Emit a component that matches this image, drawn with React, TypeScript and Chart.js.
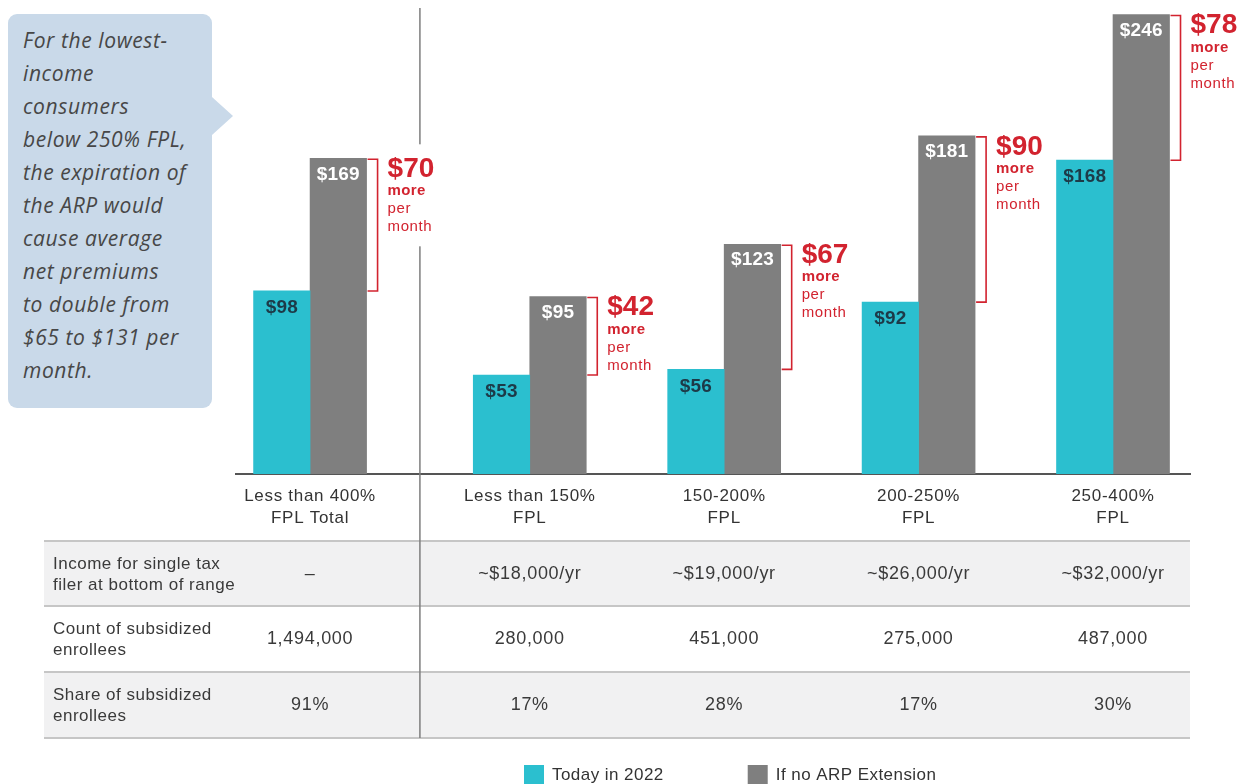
import React, { useEffect, useRef } from 'react';
import { Chart, registerables } from 'chart.js';

Chart.register(...registerables);

// ---------- data ----------
const CATEGORIES: string[][] = [
  ['Less than 400%', 'FPL Total'],
  ['Less than 150%', 'FPL'],
  ['150-200%', 'FPL'],
  ['200-250%', 'FPL'],
  ['250-400%', 'FPL'],
];
const SERIES_NAMES = ['Today in 2022', 'If no ARP Extension'];
const TODAY_2022 = [98, 53, 56, 92, 168];
const NO_ARP_EXTENSION = [169, 95, 123, 181, 246];
const INCREASE = [70, 42, 67, 90, 78];

const ROW_LABELS: string[][] = [
  ['Income for single tax', 'filer at bottom of range'],
  ['Count of subsidized', 'enrollees'],
  ['Share of subsidized', 'enrollees'],
];
const INCOME_ROW = ['–', '~$18,000/yr', '~$19,000/yr', '~$26,000/yr', '~$32,000/yr'];
const COUNT_ROW = ['1,494,000', '280,000', '451,000', '275,000', '487,000'];
const SHARE_ROW = ['91%', '17%', '28%', '17%', '30%'];

const CALLOUT_LINES = [
  'For the lowest-',
  'income',
  'consumers',
  'below 250% FPL,',
  'the expiration of',
  'the ARP would',
  'cause average',
  'net premiums',
  'to double from',
  '$65 to $131 per',
  'month.',
];

// ---------- layout / style ----------
const TEAL = '#2bbfcf';
const GREY = '#7f7f7f';
const RED = '#d2232f';
const FAMILY = '"Liberation Sans", Arial, Helvetica, sans-serif';
const GROUP_GAP = 0.13; // extra space after the total group
const xPos = (i: number) => i + (i > 0 ? GROUP_GAP : 0);
const font = (size: number, weight = 'normal') => `${weight} ${size}px ${FAMILY}`;

const TABLE_LEFT = 44;
const TABLE_RIGHT = 1190;
const ROW_EDGES = [541, 606, 672, 738];

const annotations = {
  id: 'annotations',
  beforeDraw(chart: any) {
    chart.ctx.letterSpacing = '0.7px';
  },
  beforeDatasetsDraw(chart: any) {
    const { ctx } = chart;
    const xs = chart.scales.x;
    const cols = TODAY_2022.map((_, i) => xs.getPixelForValue(xPos(i)));
    ctx.save();
    // table backgrounds
    ctx.fillStyle = '#f1f1f2';
    ctx.fillRect(TABLE_LEFT, ROW_EDGES[0], TABLE_RIGHT - TABLE_LEFT, ROW_EDGES[1] - ROW_EDGES[0]);
    ctx.fillRect(TABLE_LEFT, ROW_EDGES[2], TABLE_RIGHT - TABLE_LEFT, ROW_EDGES[3] - ROW_EDGES[2]);
    // row lines
    ctx.strokeStyle = '#c6c6c6';
    ctx.lineWidth = 2;
    ROW_EDGES.forEach((y) => {
      ctx.beginPath();
      ctx.moveTo(TABLE_LEFT, y);
      ctx.lineTo(TABLE_RIGHT, y);
      ctx.stroke();
    });
    // divider
    const dx = (cols[0] + cols[1]) / 2;
    ctx.strokeStyle = '#7d7d7d';
    ctx.lineWidth = 1.5;
    ctx.beginPath();
    ctx.moveTo(dx, 8);
    ctx.lineTo(dx, ROW_EDGES[3]);
    ctx.stroke();
    // table text
    ctx.fillStyle = '#3a3a3a';
    ctx.textBaseline = 'middle';
    ctx.textAlign = 'left';
    ctx.font = font(17);
    ctx.letterSpacing = '0.5px';
    ROW_LABELS.forEach((lines, r) => {
      lines.forEach((t, k) => ctx.fillText(t, 53, ROW_EDGES[r] + 23 + k * 21));
    });
    ctx.textAlign = 'center';
    ctx.font = font(18);
    ctx.letterSpacing = '0.7px';
    [INCOME_ROW, COUNT_ROW, SHARE_ROW].forEach((row, r) => {
      row.forEach((t, i) => ctx.fillText(t, cols[i], ROW_EDGES[r] + 33));
    });
    ctx.restore();
  },
  afterDatasetsDraw(chart: any) {
    const { ctx } = chart;
    const tMeta = chart.getDatasetMeta(0);
    const gMeta = chart.getDatasetMeta(1);
    ctx.save();
    ctx.textBaseline = 'middle';
    ctx.textAlign = 'center';
    ctx.font = font(19, 'bold');
    ctx.letterSpacing = '0.2px';
    tMeta.data.forEach((bar: any, i: number) => {
      ctx.fillStyle = '#1d3a48';
      ctx.fillText('$' + TODAY_2022[i], bar.x, bar.y + 17);
    });
    gMeta.data.forEach((bar: any, i: number) => {
      ctx.fillStyle = '#ffffff';
      ctx.fillText('$' + NO_ARP_EXTENSION[i], bar.x, bar.y + 16);
    });
    // brackets and increase labels
    gMeta.data.forEach((g: any, i: number) => {
      const t = tMeta.data[i];
      const right = g.x + g.width / 2;
      const bx = right + 11;
      ctx.strokeStyle = RED;
      ctx.lineWidth = 1.6;
      ctx.beginPath();
      ctx.moveTo(bx - 10, g.y + 1);
      ctx.lineTo(bx, g.y + 1);
      ctx.lineTo(bx, t.y);
      ctx.lineTo(bx - 10, t.y);
      ctx.stroke();
      const tx = bx + 10;
      ctx.fillStyle = '#ffffff';
      ctx.fillRect(tx - 3, g.y - 14, 56, 102);
      ctx.fillStyle = RED;
      ctx.textAlign = 'left';
      ctx.font = font(28, 'bold');
      ctx.letterSpacing = '0px';
      ctx.fillText('$' + INCREASE[i], tx, g.y + 11);
      ctx.font = font(15, 'bold');
      ctx.letterSpacing = '0.4px';
      ctx.fillText('more', tx, g.y + 33);
      ctx.font = font(15);
      ctx.letterSpacing = '0.6px';
      ctx.fillText('per', tx, g.y + 51);
      ctx.fillText('month', tx, g.y + 69);
    });
    ctx.restore();
  },
  afterDraw(chart: any) {
    const { ctx } = chart;
    ctx.save();
    ctx.font = font(17);
    ctx.letterSpacing = '0.45px';
    ctx.textBaseline = 'middle';
    ctx.textAlign = 'left';
    let x = 524;
    chart.data.datasets.forEach((ds: any) => {
      ctx.fillStyle = ds.backgroundColor;
      ctx.fillRect(x, 765, 20, 20);
      ctx.fillStyle = '#333333';
      ctx.fillText(ds.label, x + 28, 775);
      x += 28 + ctx.measureText(ds.label).width + 84;
    });
    ctx.restore();
    ctx.letterSpacing = '0px';
  },
};

export default function App() {
  const canvasRef = useRef<HTMLCanvasElement | null>(null);

  useEffect(() => {
    if (!canvasRef.current) return;
    const chart = new Chart(canvasRef.current, {
      type: 'bar',
      data: {
        datasets: [
          {
            label: SERIES_NAMES[0],
            data: TODAY_2022.map((v, i) => ({ x: xPos(i), y: v })),
            backgroundColor: TEAL,
            barThickness: 56.5,
          },
          {
            label: SERIES_NAMES[1],
            data: NO_ARP_EXTENSION.map((v, i) => ({ x: xPos(i), y: v })),
            backgroundColor: GREY,
            barThickness: 56.5,
          },
        ],
      } as any,
      options: {
        responsive: false,
        animation: false,
        layout: { padding: { left: 236, right: 54, top: 7, bottom: 0 } },
        plugins: { legend: { display: false }, tooltip: { enabled: false } },
        scales: {
          x: {
            type: 'linear',
            offset: false,
            min: -0.381,
            max: 4.526,
            grid: { display: false, drawTicks: false },
            border: { display: true, color: '#555555', width: 2 },
            afterBuildTicks: (scale: any) => {
              scale.ticks = CATEGORIES.map((_, i) => ({ value: xPos(i) }));
            },
            afterFit: (scale: any) => {
              scale.height = 310;
            },
            ticks: {
              autoSkip: false,
              maxRotation: 0,
              minRotation: 0,
              padding: 11,
              color: '#333333',
              font: { family: FAMILY, size: 17, lineHeight: 22 / 17 },
              callback: (_v: any, index: number) => CATEGORIES[index],
            },
          },
          y: {
            display: false,
            min: 0,
            max: 250,
          },
        },
      } as any,
      plugins: [annotations],
    });
    return () => chart.destroy();
  }, []);

  return (
    <div>
      <canvas
        ref={canvasRef}
        width={1244}
        height={784}
        style={{ position: 'absolute', left: 0, top: 0, width: 1244, height: 784 }}
      />
      <div
        style={{
          position: 'absolute',
          left: 8,
          top: 14,
          width: 204,
          height: 394,
          background: '#c9d9e9',
          borderRadius: 9,
          boxSizing: 'border-box',
          padding: '10px 0 0 15px',
          fontFamily: '"Open Sans", "Noto Sans", sans-serif',
          fontStyle: 'italic',
          fontSize: 21,
          letterSpacing: '0.6px',
          lineHeight: '33px',
          color: '#474747',
          whiteSpace: 'nowrap',
        }}
      >
        {CALLOUT_LINES.map((l, i) => (
          <div key={i}>{l}</div>
        ))}
      </div>
      <div
        style={{
          position: 'absolute',
          left: 212,
          top: 97,
          width: 0,
          height: 0,
          borderTop: '19px solid transparent',
          borderBottom: '19px solid transparent',
          borderLeft: '21px solid #c9d9e9',
        }}
      />
    </div>
  );
}
